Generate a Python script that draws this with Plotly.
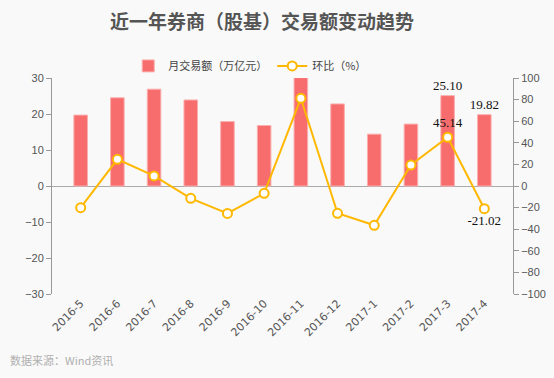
import plotly.graph_objects as go

months = ["2016-5", "2016-6", "2016-7", "2016-8", "2016-9", "2016-10",
          "2016-11", "2016-12", "2017-1", "2017-2", "2017-3", "2017-4"]
volume = [19.7, 24.5, 26.9, 23.9, 17.9, 16.8, 30.1, 22.8, 14.4, 17.2, 25.10, 19.82]
mom = [-20.1, 24.7, 9.3, -11.4, -25.4, -6.8, 81.2, -25.3, -36.4, 19.4, 45.14, -21.02]
labeled = {10, 11}

bar_text = [f"{v:.2f}" if i in labeled else "" for i, v in enumerate(volume)]
line_text = [f"{v:.2f}" if i in labeled else "" for i, v in enumerate(mom)]
line_pos = ["top center" if v >= 0 else "bottom center" for v in mom]

label_font = dict(family="Liberation Serif, serif", size=13, color="#111111")
axis_font = dict(family="Liberation Sans, Arial, sans-serif", size=11, color="#555555")
xtick_font = dict(family="DejaVu Sans, sans-serif", size=11, color="#555555")

fig = go.Figure()
fig.add_trace(go.Bar(
    x=months, y=volume, name="月交易额（万亿元）",
    marker=dict(color="#f76c6c", line=dict(color="#fbb0b0", width=1)),
    width=0.37, text=bar_text, textposition="outside", cliponaxis=False,
    constraintext="none", textfont=label_font, yaxis="y",
))
fig.add_trace(go.Scatter(
    x=months, y=mom, name="环比（%）", mode="lines+markers+text",
    line=dict(color="#ffb800", width=2),
    marker=dict(symbol="circle", size=9, color="white",
                line=dict(color="#ffb800", width=2)),
    text=line_text, textposition=line_pos, textfont=label_font,
    cliponaxis=False, yaxis="y2",
))

fig.update_layout(
    width=554, height=378,
    paper_bgcolor="#f9f9f9", plot_bgcolor="#f9f9f9",
    margin=dict(l=52, r=41, t=78, b=84, autoexpand=False),
    title=dict(text="<b>近一年券商（股基）交易额变动趋势</b>",
               x=0.473, xanchor="center", y=0.942, yanchor="middle",
               font=dict(family="Noto Sans CJK SC", size=19, color="#555555")),
    showlegend=True,
    legend=dict(orientation="h", x=0.43, xanchor="center",
                yref="paper", y=1.056, yanchor="middle",
                font=dict(family="Noto Sans CJK SC", size=11, color="#444444"),
                bgcolor="rgba(0,0,0,0)", itemwidth=30),
    xaxis=dict(type="category", tickangle=-45, tickfont=xtick_font, showgrid=False,
               showline=False, ticks=""),
    yaxis=dict(range=[-30, 30], tickvals=[-30, -20, -10, 0, 10, 20, 30],
               showgrid=False, showline=True, linecolor="#999999", linewidth=1,
               ticks="outside", ticklen=5, tickcolor="#999999",
               tickfont=axis_font, zeroline=True, zerolinecolor="#aaaaaa",
               zerolinewidth=1),
    yaxis2=dict(range=[-100, 100], tickvals=list(range(-100, 101, 20)),
                overlaying="y", side="right", showgrid=False, showline=True,
                linecolor="#999999", linewidth=1, ticks="outside", ticklen=5,
                tickcolor="#999999", tickfont=axis_font, zeroline=False),
    annotations=[dict(text="数据来源：Wind资讯", xref="paper", yref="paper",
                      x=-0.095, y=-0.306, xanchor="left", yanchor="middle",
                      showarrow=False,
                      font=dict(family="Noto Sans CJK SC", size=11, color="#b0b0b0"))],
)

fig.write_html("out.html", config={"displayModeBar": False},
               post_script="document.body.style.margin='0';document.body.style.background='#f9f9f9';")
